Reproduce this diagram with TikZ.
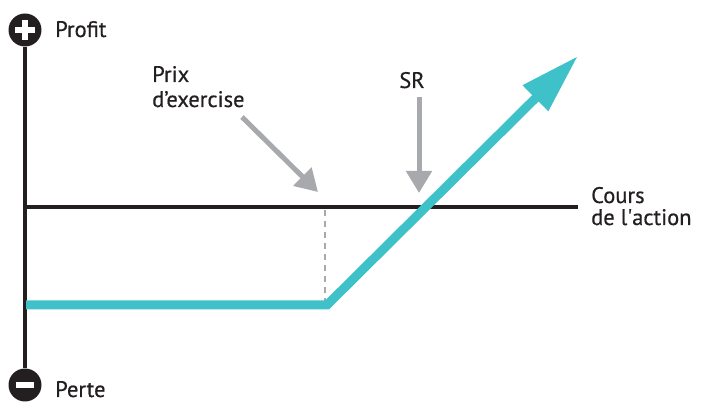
\documentclass[tikz,border=0pt]{standalone}
\usepackage{fontspec}
\setmainfont{PT Sans}[FakeBold=0.5]
\usetikzlibrary{arrows.meta}
\definecolor{teal2}{HTML}{3EC1C9}
\definecolor{grayarr}{HTML}{A7A9AC}
\definecolor{ink}{HTML}{231F20}
\begin{document}
\begin{tikzpicture}[x=1pt,y=-1pt,
  lbl/.style={inner sep=0pt, anchor=base west, font=\fontsize{22.5}{24}\selectfont, text=ink},
  axis/.style={draw=ink, line width=3.8pt},
  pointer/.style={draw=grayarr, line width=5pt, -{Triangle[length=22pt,width=25pt]}},
  payoff/.style={draw=teal2, line width=9pt, line join=miter, -{Triangle[length=60pt,width=34pt]}},
  sign/.style={circle, fill=ink, minimum size=33pt, inner sep=0pt}]
\useasboundingbox (0,0) rectangle (705,403);
% axes
\node[sign] (plus) at (25,30) {};
\node[sign] (minus) at (25,385) {};
\fill[white] (15,27) rectangle (35,33);
\fill[white] (22,20) rectangle (28,40);
\fill[white] (16,382) rectangle (34,388);
\draw[axis] (plus) -- (minus);
\coordinate (h0) at (25,207);
\coordinate (h1) at (578,207);
\draw[axis] (h0) -- (h1);
% labels
\node[lbl] (profit) at (55,37) {Profit};
\node[lbl] (perte) at (55,397) {Perte};
\node[lbl] (cours) at (591,203) {Cours};
\node[lbl] (action) at (591,225) {de l\textquotesingle action};
\node[lbl] (prix) at (152,82) {Prix};
\node[lbl] (exer) at (152,107) {d’exercise};
\node[lbl, anchor=base] (sr) at (412,88) {SR};
% dashed strike line
\coordinate (k0) at (325,210);
\coordinate (k1) at (325,305);
\draw[grayarr, line width=1.6pt, dash pattern=on 6pt off 5pt] (k0) -- (k1);
% payoff
\coordinate (p0) at (26,305);
\coordinate (p1) at (327,305);
\coordinate (p2) at (578,56);
\draw[payoff] (p0) -- (p1) -- (p2);
% pointers
\coordinate (a0) at (242,117);
\coordinate (a1) at (318,192);
\draw[pointer] (a0) -- (a1);
\coordinate (b0) at (419,97);
\coordinate (b1) at (419,193);
\draw[pointer] (b0) -- (b1);
\end{tikzpicture}
\end{document}
